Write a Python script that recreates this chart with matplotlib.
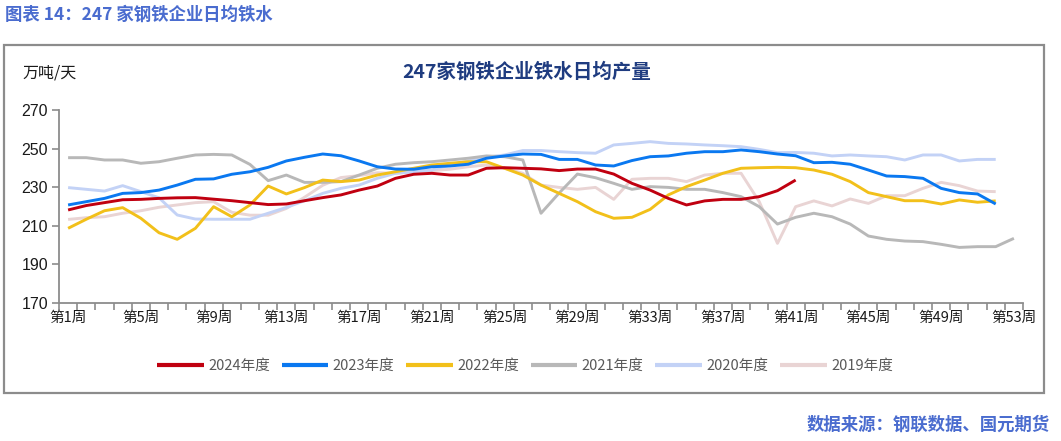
import matplotlib
matplotlib.use("Agg")
import matplotlib.pyplot as plt
from matplotlib.patches import Rectangle
import numpy as np

plt.rcParams['font.family'] = ['Noto Sans CJK SC', 'DejaVu Sans']

# weekly values, 万吨/天
weeks = np.arange(1, 54)
y2024 = [218.2, 220.5, 222.0, 223.5, 223.7, 224.2, 224.5, 224.6, 223.8, 223.0,
         222.0, 221.0, 221.3, 223.0, 224.6, 226.0, 228.5, 230.6, 234.6, 236.7,
         237.2, 236.3, 236.3, 239.8, 240.1, 239.8, 239.5, 238.6, 239.4, 239.4,
         236.8, 232.0, 228.5, 224.2, 220.8, 222.9, 223.7, 223.7, 225.1, 228.2,
         233.7]
y2023 = [220.8, 222.5, 224.2, 226.8, 227.2, 228.5, 231.1, 234.1, 234.3, 236.7,
         238.0, 240.3, 243.6, 245.5, 247.2, 246.3, 243.6, 240.6, 239.4, 239.3,
         240.6, 241.0, 241.9, 245.0, 246.2, 247.2, 247.0, 244.4, 244.4, 241.5,
         241.0, 243.8, 245.8, 246.2, 247.6, 248.4, 248.4, 249.3, 248.4, 247.2,
         246.3, 242.7, 242.9, 241.9, 238.9, 235.8, 235.5, 234.6, 229.4, 227.2,
         226.5, 221.3]
y2022 = [208.7, 213.4, 217.8, 219.4, 213.9, 206.4, 203.0, 208.7, 219.9, 214.7,
         220.8, 230.6, 226.5, 229.8, 233.7, 232.9, 233.7, 236.3, 238.0, 239.8,
         241.5, 242.4, 243.2, 243.2, 239.8, 236.3, 231.1, 226.8, 222.5, 217.3,
         213.9, 214.4, 218.5, 226.0, 230.3, 233.7, 237.2, 239.8, 240.1, 240.3,
         240.1, 238.9, 236.7, 232.9, 227.2, 225.1, 223.0, 223.0, 221.3, 223.4,
         222.2, 222.9]
y2021 = [245.3, 245.3, 244.1, 244.1, 242.4, 243.2, 245.0, 246.7, 247.0, 246.7,
         241.8, 233.4, 236.3, 232.5, 232.5, 232.9, 236.3, 239.8, 241.9, 242.7,
         243.2, 244.1, 245.0, 246.2, 245.8, 244.1, 216.5, 227.0, 236.8, 234.9,
         232.0, 228.9, 230.3, 229.9, 228.9, 228.9, 227.2, 225.1, 219.9, 210.9,
         214.4, 216.5, 214.7, 210.9, 204.7, 203.0, 202.1, 201.8, 200.4, 198.8,
         199.2, 199.2, 203.5]
y2020 = [229.8, 228.9, 228.0, 230.8, 227.7, 224.5, 215.6, 213.5, 213.4, 213.4,
         213.4, 216.5, 219.5, 223.0, 226.8, 229.4, 231.1, 234.6, 237.2, 238.0,
         238.9, 241.5, 243.6, 245.5, 246.7, 249.0, 249.0, 248.4, 247.9, 247.6,
         251.9, 252.7, 253.6, 252.7, 252.4, 251.9, 251.5, 251.0, 249.6, 247.9,
         248.0, 247.6, 246.2, 246.7, 246.2, 245.8, 244.1, 246.7, 246.7, 243.6,
         244.4, 244.4]
y2019 = [213.3, 214.2, 214.7, 216.5, 217.8, 219.6, 220.8, 222.0, 222.5, 217.0,
         215.5, 215.5, 219.0, 224.8, 231.0, 235.0, 236.0, 237.5, 237.2, 238.0,
         238.6, 239.3, 240.6, 241.5, 239.8, 237.2, 231.1, 229.9, 228.9, 229.9,
         223.7, 234.1, 234.6, 234.6, 232.9, 236.3, 237.2, 237.2, 222.5, 200.9,
         219.9, 222.9, 220.3, 223.9, 221.6, 225.6, 225.6, 229.4, 232.5, 230.8,
         228.0, 227.7]

series = [
    ("2024年度", y2024, "#C00010"),
    ("2023年度", y2023, "#0A78F0"),
    ("2022年度", y2022, "#F2C01A"),
    ("2021年度", y2021, "#B8B8B8"),
    ("2020年度", y2020, "#C3D2F6"),
    ("2019年度", y2019, "#E9D4D4"),
]

W, H = 1061, 441
fig = plt.figure(figsize=(W / 100, H / 100), dpi=100)

# outer grey frame
fig.patches.append(Rectangle((4 / W, 1 - 393 / H), 1040 / W, 348 / H,
                             transform=fig.transFigure, fill=False,
                             edgecolor="#8C8C8C", linewidth=1.6))

ax = fig.add_axes([59 / W, 1 - 303 / H, 964 / W, 193 / H])

# draw oldest first so 2024 sits on top
for name, vals, col in series[::-1]:
    ax.plot(weeks[:len(vals)], vals, color=col, lw=2.1, label=name,
            solid_capstyle="butt", solid_joinstyle="round")

ax.set_xlim(0.5, 53.5)
ax.set_ylim(170, 270)
ax.set_yticks(np.arange(170, 271, 20))
ax.set_xticks(np.arange(0.5, 54, 1))
ax.set_xticklabels([])
ax.set_xticks(np.arange(1, 54, 4), minor=True)
ax.set_xticklabels([f"第{w}周" for w in range(1, 54, 4)], minor=True,
                   fontsize=10.5, color="#1a1a1a")
ax.tick_params(axis="x", which="major", direction="out", length=5,
               color="#8C8C8C", width=1.2)
ax.tick_params(axis="x", which="minor", length=0, pad=6)
ax.tick_params(axis="y", direction="out", length=5, color="#8C8C8C",
               width=1.2, labelsize=11.5, labelcolor="#1a1a1a", pad=3)
for lab in ax.get_yticklabels():
    lab.set_family("Liberation Sans")

for s in ["top", "right"]:
    ax.spines[s].set_visible(False)
for s in ["left", "bottom"]:
    ax.spines[s].set_color("#8C8C8C")
    ax.spines[s].set_linewidth(1.3)

handles, labels = ax.get_legend_handles_labels()
leg = fig.legend(handles[::-1], labels[::-1], loc="center",
                 bbox_to_anchor=(525 / W, 1 - 366 / H), ncol=6, frameon=False,
                 handlelength=3.2, handletextpad=0.3, columnspacing=0.8,
                 fontsize=10.5)
for t in leg.get_texts():
    t.set_color("#595959")
for l in leg.get_lines():
    l.set_linewidth(3)

fig.text(5 / W, 1 - 15 / H, "图表 14：247 家钢铁企业日均铁水", fontsize=12.5,
         fontweight="bold", color="#4A6CCF", va="center", ha="left")
fig.text(22 / W, 1 - 73 / H, "万吨/天", fontsize=11.5, color="#1a1a1a",
         va="center", ha="left")
fig.text(527 / W, 1 - 72 / H, "247家钢铁企业铁水日均产量", fontsize=14,
         fontweight="bold", color="#1F3C80", va="center", ha="center")
fig.text(1050 / W, 1 - 425 / H, "数据来源：钢联数据、国元期货", fontsize=12.5,
         fontweight="bold", color="#4A6CCF", va="center", ha="right")

fig.savefig("out.png", dpi=100)
